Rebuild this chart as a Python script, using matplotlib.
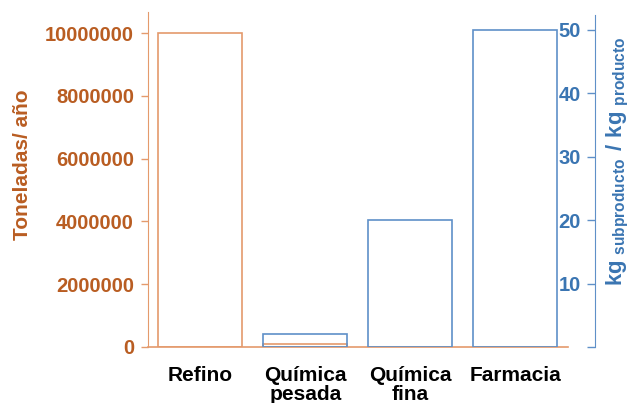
import numpy as np
import matplotlib.pyplot as plt

plt.rcParams['font.family'] = ['Liberation Sans', 'DejaVu Sans']
plt.rcParams['font.weight'] = 'bold'
plt.rcParams['mathtext.fontset'] = 'custom'
plt.rcParams['mathtext.bf'] = 'Liberation Sans:bold'
plt.rcParams['mathtext.rm'] = 'Liberation Sans:bold'

# sector data
sectores = ['Refino', 'Química\npesada', 'Química\nfina', 'Farmacia']
toneladas = [10000000, 100000, 1000, 100]       # t/año
factor_e = [np.nan, 2, 20, 50]                   # kg subproducto / kg producto

naranja_txt = '#B95D22'
naranja_lin = '#E49A6C'
azul_txt = '#3A75B2'
azul_lin = '#5F90C8'

fig = plt.figure(figsize=(6.31, 4.03), dpi=100)
ax = fig.add_axes([0.2345, 0.139, 0.6656, 0.831])
ax2 = ax.twinx()

x = range(len(sectores))
ax.bar(x, toneladas, width=0.8, facecolor='none', edgecolor=naranja_lin, linewidth=1.2)
ax2.bar(x, factor_e, width=0.8, facecolor='none', edgecolor=azul_lin, linewidth=1.2)

ax.set_xlim(-0.5, 3.5)
ax.set_ylim(0, 1.0669e7)
ax.set_yticks([0, 2000000, 4000000, 6000000, 8000000, 10000000])
ax.set_yticklabels(['0', '2000000', '4000000', '6000000', '8000000', '10000000'])
ax.tick_params(axis='y', colors=naranja_lin, labelcolor=naranja_txt, labelsize=14.5,
               length=5, width=1, pad=5)
ax.set_xticks(list(x))
ax.set_xticklabels(sectores, fontsize=15, linespacing=0.95, va='top')
ax.tick_params(axis='x', length=0, pad=14, labelcolor='black')
ax.set_ylabel('Toneladas/ año', color=naranja_txt, fontsize=15, fontweight='bold')
ax.yaxis.set_label_coords(-0.275, 0.543)

for s in ['top', 'right']:
    ax.spines[s].set_visible(False)
ax.spines['left'].set_color(naranja_lin)
ax.spines['bottom'].set_color(naranja_lin)
ax.spines['bottom'].set_linewidth(1.2)

# secondary axis: spine sits right of the plot, ticks and labels on its left side
ax2.set_ylim(0, 52.8)
ax2.set_yticks([0, 10, 20, 30, 40, 50])
ax2.set_yticklabels(['', '10', '20', '30', '40', '50'])
ax2.yaxis.tick_left()
for s in ['top', 'right', 'bottom']:
    ax2.spines[s].set_visible(False)
ax2.spines['left'].set_position(('axes', 1.064))
ax2.spines['left'].set_color(azul_lin)
ax2.spines['left'].set_bounds(0, 52.4)
ax2.tick_params(axis='y', colors=azul_lin, labelcolor=azul_txt, labelsize=14.5,
                length=6, width=1, pad=4)

fig.text(0.979, 0.6,
         r'$\mathbf{kg}_{\ \mathbf{subproducto}}\ \mathbf{/\ kg}_{\ \mathbf{producto}}$',
         rotation=90, ha='center', va='center', color=azul_txt, fontsize=16)

fig.savefig('out.png', dpi=100)
